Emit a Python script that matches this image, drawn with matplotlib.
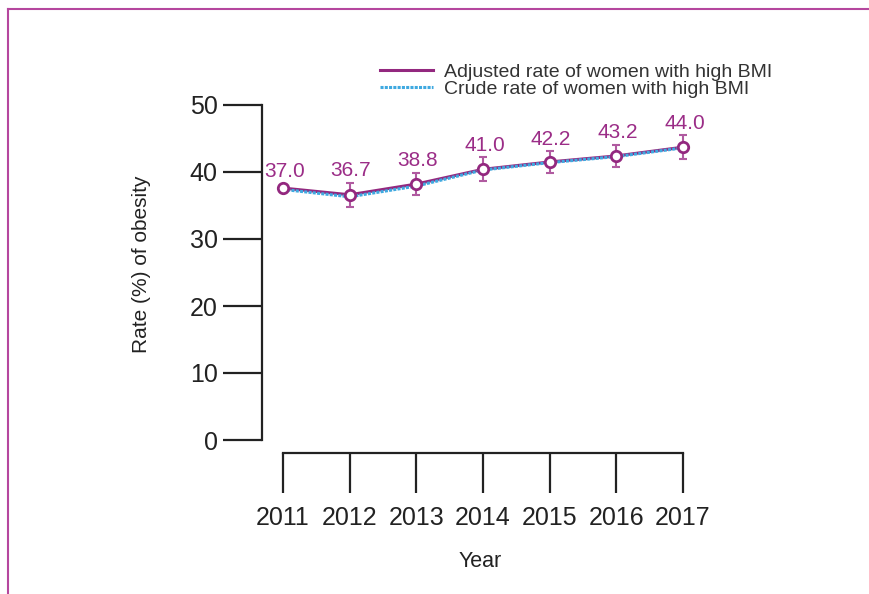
import matplotlib
matplotlib.use("Agg")
import matplotlib.pyplot as plt
from matplotlib.lines import Line2D
import numpy as np

plt.rcParams['font.family'] = ['Liberation Sans', 'DejaVu Sans']

years = [2011, 2012, 2013, 2014, 2015, 2016, 2017]
adjusted = [37.6, 36.6, 38.2, 40.4, 41.5, 42.4, 43.7]
crude = [37.4, 36.3, 37.9, 40.3, 41.4, 42.3, 43.6]
adjusted_err = [0.0, 1.8, 1.7, 1.8, 1.6, 1.7, 1.8]
value_labels = ["37.0", "36.7", "38.8", "41.0", "42.2", "43.2", "44.0"]
yticks = [0, 10, 20, 30, 40, 50]

PURPLE = "#93287f"
LABEL_PURPLE = "#9b2d87"
ERR_PURPLE = "#b05aa0"
BLUE = "#3fa9e0"
BORDER = "#b5479e"
TXT = "#222222"

W, H = 869, 594
fig = plt.figure(figsize=(W / 100, H / 100), dpi=100)

left_px, right_px = 262, 720
top_px, bot_px = 105, 440
ax = fig.add_axes([left_px / W, (H - bot_px) / H, (right_px - left_px) / W, (bot_px - top_px) / H])

ppy = 66.67
ax.set_xlim(2011 - (283 - left_px) / ppy, 2017 + (right_px - 683) / ppy)
ax.set_ylim(0, 50)

ax.errorbar(years, adjusted, yerr=adjusted_err, fmt='none', ecolor=ERR_PURPLE,
            elinewidth=1.5, capsize=3, capthick=1.5, zorder=2)
ax.plot(years, adjusted, color=PURPLE, lw=2.2, zorder=3,
        label="Adjusted rate of women with high BMI")
ax.plot(years, crude, color=BLUE, lw=2.2, ls=(0, (1, 0.4)), zorder=4,
        label="Crude rate of women with high BMI")
ax.plot(years, adjusted, ls='none', marker='o', ms=7.5, mfc='white', mec=PURPLE,
        mew=2.0, zorder=5)

for x, y, e, t in zip(years, adjusted, adjusted_err, value_labels):
    ax.annotate(t, (x, y + max(e, 0.7)), xytext=(1, 8.5), textcoords='offset points',
                ha='center', va='center', color=LABEL_PURPLE, fontsize=15)

for s in ['top', 'right']:
    ax.spines[s].set_visible(False)
ax.spines['left'].set_linewidth(1.6)
ax.spines['left'].set_color(TXT)
ax.spines['bottom'].set_position(('outward', 9.4))
ax.spines['bottom'].set_bounds(2011, 2017)
ax.spines['bottom'].set_linewidth(1.6)
ax.spines['bottom'].set_color(TXT)

ax.set_yticks(yticks)
ax.set_xticks(years)
ax.tick_params(axis='y', direction='out', length=28, width=1.6, pad=4,
               labelsize=18, colors=TXT)
ax.tick_params(axis='x', direction='out', length=28.5, width=1.6, pad=9.5,
               labelsize=18, colors=TXT)

ax.set_ylabel("Rate (%) of obesity", fontsize=15, color=TXT)
ax.yaxis.set_label_coords(-0.243, (bot_px - 264) / (bot_px - top_px))
ax.set_xlabel("Year", fontsize=15.5, color=TXT)
ax.xaxis.set_label_coords((480 - left_px) / (right_px - left_px), (bot_px - 551) / (bot_px - top_px))

leg = fig.legend(loc='upper left', bbox_to_anchor=(380 / W, 1 - 63 / H),
                 frameon=False, fontsize=14, handlelength=2.7, handletextpad=0.6,
                 labelspacing=0.0, borderpad=0, borderaxespad=0)
for t in leg.get_texts():
    t.set_color("#333333")

fig.add_artist(Line2D([8 / W, 1], [1 - 9 / H, 1 - 9 / H], transform=fig.transFigure,
                      color=BORDER, lw=1.5))
fig.add_artist(Line2D([8 / W, 8 / W], [0, 1 - 9 / H], transform=fig.transFigure,
                      color=BORDER, lw=1.5))

fig.savefig("out.png", dpi=100)
